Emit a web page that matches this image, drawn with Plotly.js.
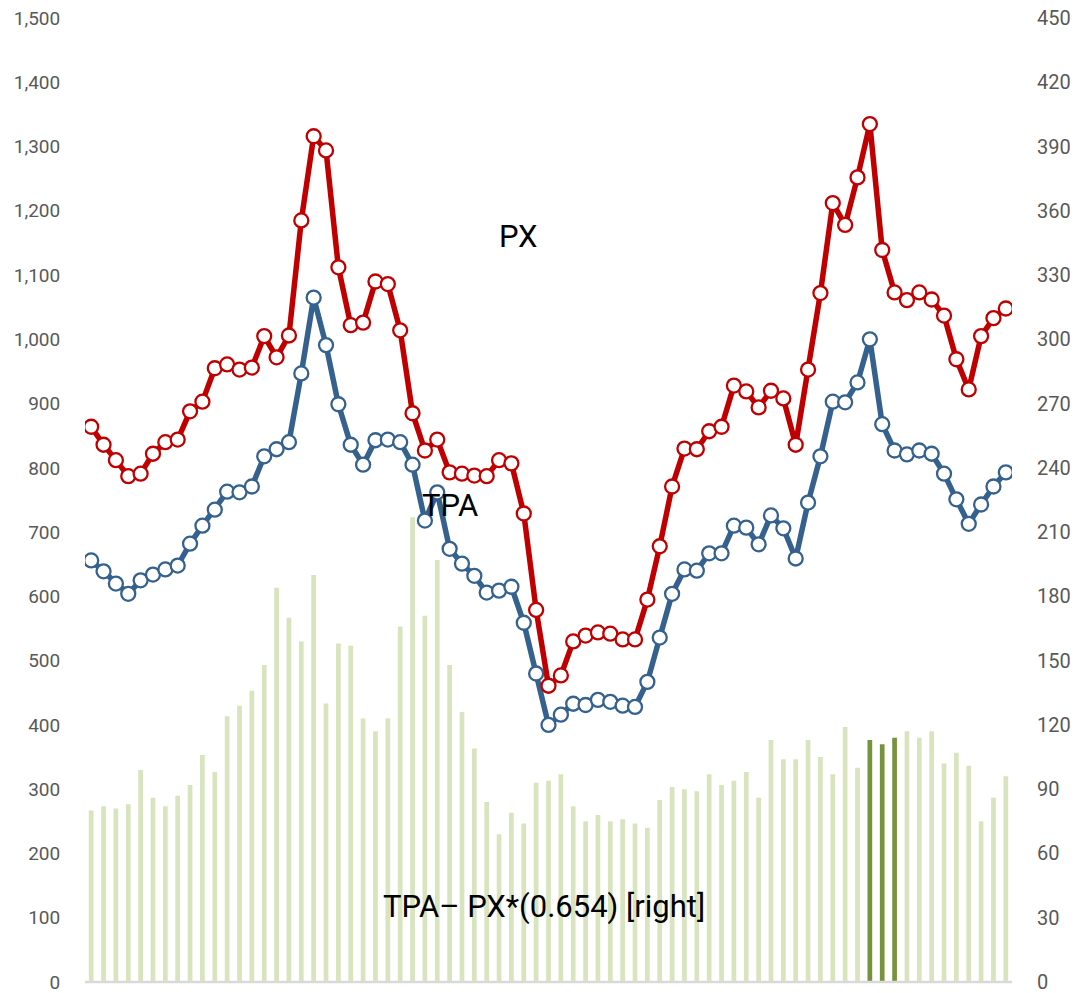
<!DOCTYPE html>
<html>
<head>
<meta charset="utf-8">
<script src="https://cdn.plot.ly/plotly-3.0.1.min.js"></script>
<style>html,body{margin:0;padding:0;background:#fff;}#chart{width:1081px;height:993px;}</style>
</head>
<body>
<div id="chart"></div>
<script>
// PX (left axis)
const px = [864,836,812,787,791,822,840,844,888,903,955,961,953,956,1005,972,1006,1185,1316,1294,
  1112,1022,1026,1090,1086,1014,885,827,844,793,791,788,787,812,807,729,579,461,477,530,
  539,544,542,533,533,595,678,771,830,829,857,864,928,919,894,920,908,836,953,1072,
  1212,1178,1252,1335,1139,1073,1061,1073,1062,1037,969,922,1005,1033,1048];
// TPA (left axis)
const tpa = [656,639,620,604,625,634,642,648,682,710,735,763,762,771,818,829,840,947,1065,991,
  899,836,805,843,844,840,805,718,762,674,651,632,606,609,615,559,480,400,416,433,
  431,439,436,430,428,467,536,604,642,640,667,667,710,707,681,726,706,659,746,818,
  903,902,933,1000,868,827,821,827,822,791,751,713,743,771,793];
// TPA - PX*(0.654) (right axis)
const spread = [80,82,81,83,99,86,82,87,92,106,98,124,129,136,148,184,170,159,190,130,
  158,157,123,117,123,166,217,171,197,148,126,109,84,69,79,74,93,94,97,82,
  75,78,75,76,74,72,85,91,90,89,97,92,94,98,86,113,104,104,113,105,
  97,119,100,113,111,114,117,114,117,102,107,101,75,86,96];
const highlight = [63,64,65];

const idx = px.map((_, i) => i);
const barColors = idx.map(i => highlight.includes(i) ? '#77933C' : '#D7E4BD');

const lineMarker = (c) => ({symbol:'circle', size:14, color:'#FFFFFF', line:{color:c, width:2.3}});

const traces = [
  {x: idx, y: spread, type:'bar', yaxis:'y', marker:{color: barColors}, hoverinfo:'skip'},
  {x: idx, y: tpa, type:'scatter', mode:'lines+markers', yaxis:'y2',
   line:{color:'#35618F', width:5.5}, marker: lineMarker('#35618F')},
  {x: idx, y: px, type:'scatter', mode:'lines+markers', yaxis:'y2',
   line:{color:'#C00000', width:5.5}, marker: lineMarker('#C00000')}
];

const tickFontL = {family:'Roboto, "Liberation Sans", sans-serif', size:19, color:'#595959'};
const tickFontR = {family:'Roboto, "Liberation Sans", sans-serif', size:20, color:'#595959'};
const annFont = {family:'Roboto, "Liberation Sans", sans-serif', size:31, color:'#000'};
const layout = {
  width:1081, height:993,
  margin:{l:85, r:69, t:18, b:11},
  paper_bgcolor:'#fff', plot_bgcolor:'#fff',
  showlegend:false,
  bargap:0.62,
  xaxis:{range:[-0.5, 74.5], showticklabels:false, showgrid:false, zeroline:false,
    showline:false, ticks:''},
  yaxis:{range:[0,450], dtick:30, side:'right', showgrid:false, zeroline:false,
    showline:false, ticks:'outside', ticklen:20, tickcolor:'rgba(0,0,0,0)',
    tickfont:tickFontR, ticklabeloverflow:'allow'},
  yaxis2:{range:[0,1500], dtick:100, overlaying:'y', side:'left', showgrid:false,
    zeroline:false, showline:false, tickformat:',', ticks:'outside', ticklen:20,
    tickcolor:'rgba(0,0,0,0)', tickfont:tickFontL, ticklabeloverflow:'allow'},
  shapes:[{type:'line', xref:'paper', yref:'paper', x0:0, x1:1, y0:0, y1:0,
    line:{color:'#D9D9D9', width:2.5}}],
  annotations:[
    {text:'PX', x:34.6, y:1160, xref:'x', yref:'y2', showarrow:false, font:annFont},
    {text:'TPA', x:29.0, y:742, xref:'x', yref:'y2', showarrow:false, font:annFont},
    {text:'TPA\u2013 PX*(0.654) [right]', x:36.6, y:117, xref:'x', yref:'y2', showarrow:false, font:annFont}
  ]
};

Plotly.newPlot('chart', traces, layout, {displayModeBar:false, staticPlot:true});
</script>
</body>
</html>
